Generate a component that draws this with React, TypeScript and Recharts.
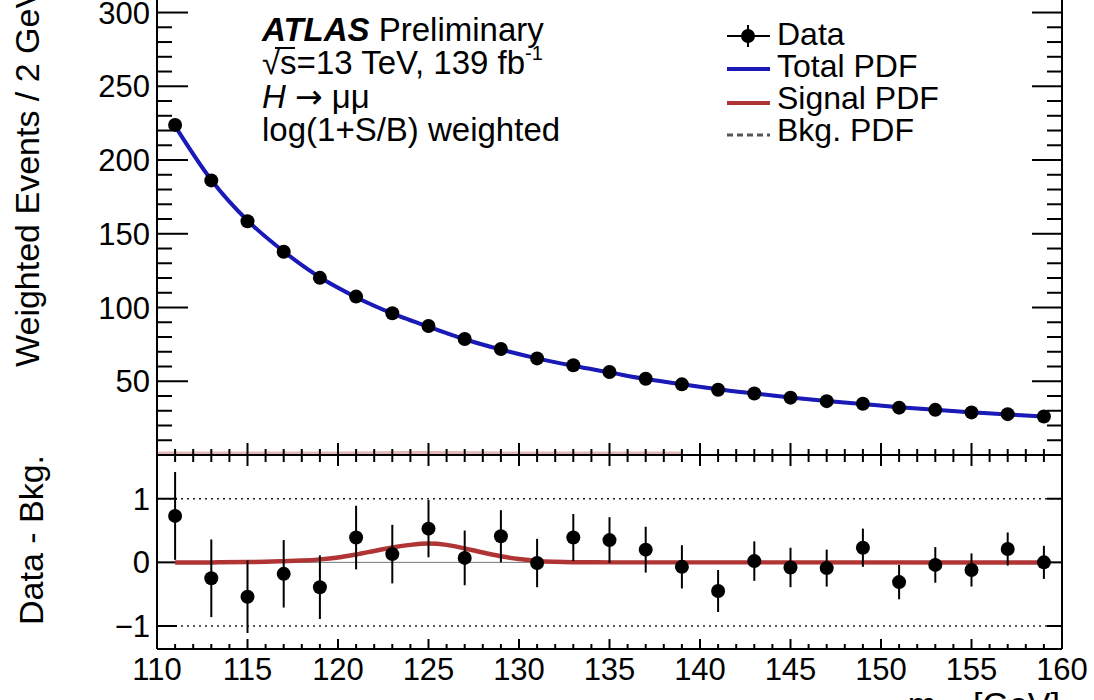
import React from "react";
import { ComposedChart, Line, Scatter, XAxis, YAxis, ErrorBar, ReferenceLine } from "recharts";

const FONT = "'Liberation Sans', Arial, Helvetica, sans-serif";
const BLUE = "#1a1ab8";
const RED = "#b03434";

// ---- data ----
const massBins = [111, 113, 115, 117, 119, 121, 123, 125, 127, 129, 131, 133, 135, 137, 139, 141, 143, 145, 147, 149, 151, 153, 155, 157, 159];
const weightedEvents = [223.7, 186.2, 158.5, 137.8, 120.1, 107.4, 96.1, 87.5, 78.6, 71.9, 65.5, 60.9, 56.3, 51.7, 47.9, 44.2, 41.7, 38.9, 36.5, 34.7, 32.1, 30.6, 28.9, 27.7, 26.1];
const eventErrors = [0.69, 0.61, 0.57, 0.53, 0.5, 0.5, 0.46, 0.45, 0.43, 0.41, 0.38, 0.37, 0.36, 0.36, 0.34, 0.33, 0.31, 0.31, 0.29, 0.3, 0.27, 0.28, 0.26, 0.26, 0.26];
const totalPdf = [223, 186.5, 159, 138, 120.5, 107, 96, 87, 78.5, 71.5, 65.5, 60.5, 56, 51.5, 48, 44.6, 41.7, 39, 36.6, 34.5, 32.4, 30.6, 29, 27.5, 26.1];
const bkgPdf = [223, 186.5, 159, 138, 120.45, 106.88, 95.77, 86.71, 78.28, 71.4, 65.48, 60.5, 56, 51.5, 48, 44.6, 41.7, 39, 36.6, 34.5, 32.4, 30.6, 29, 27.5, 26.1];
const residuals = [0.73, -0.25, -0.54, -0.18, -0.39, 0.39, 0.13, 0.53, 0.07, 0.41, -0.01, 0.39, 0.35, 0.2, -0.07, -0.45, 0.02, -0.08, -0.09, 0.23, -0.31, -0.04, -0.12, 0.21, 0.0];
const residualErrors = [0.69, 0.61, 0.57, 0.53, 0.5, 0.5, 0.46, 0.45, 0.43, 0.41, 0.38, 0.37, 0.36, 0.36, 0.34, 0.33, 0.31, 0.31, 0.29, 0.3, 0.27, 0.28, 0.26, 0.26, 0.26];
const signalMass = [111, 113, 115, 116, 117, 118, 119, 120, 121, 122, 123, 124, 125, 126, 127, 128, 129, 130, 131, 132, 133, 135, 159];
const signalPdf = [0, 0, 0.005, 0.01, 0.018, 0.028, 0.047, 0.078, 0.125, 0.18, 0.235, 0.275, 0.295, 0.275, 0.22, 0.155, 0.097, 0.052, 0.022, 0.009, 0.003, 0, 0];
const signalTopMass = [110, 115, 120, 125, 130, 135, 139];
const signalTopPdf = [0, 0.005, 0.078, 0.295, 0.052, 0, 0];

// ---- axis ticks ----
const xTicksAll = Array.from({ length: 51 }, (_, i) => 110 + i);
const xMajorTicks = [110, 115, 120, 125, 130, 135, 140, 145, 150, 155, 160];
const yTopTicksAll = Array.from({ length: 30 }, (_, i) => 10 + i * 10);
const yTopMajorTicks = [50, 100, 150, 200, 250, 300];
const yBotTicks = [-1, 0, 1];
const yBotLabels: Record<string, string> = { "-1": "\u22121", "0": "0", "1": "1" };

// ---- layout (pixels) ----
const X_DOMAIN: [number, number] = [110, 160];
const TOP_DOMAIN: [number, number] = [0, 308.5];
const BOT_DOMAIN: [number, number] = [-1.361, 1.687];
const PLOT_W = 905;
const TOP_H = 455;
const BOT_H = 194;
const pxX = PLOT_W / (X_DOMAIN[1] - X_DOMAIN[0]);
const pxTop = TOP_H / (TOP_DOMAIN[1] - TOP_DOMAIN[0]);
const pxBot = BOT_H / (BOT_DOMAIN[1] - BOT_DOMAIN[0]);

const topData = massBins.map((x, i) => ({ x, y: weightedEvents[i], err: eventErrors[i] }));
const totalData = massBins.map((x, i) => ({ x, y: totalPdf[i] }));
const bkgData = massBins.map((x, i) => ({ x, y: bkgPdf[i] }));
const resData = massBins.map((x, i) => ({ x, y: residuals[i], err: residualErrors[i] }));
const sigData = signalMass.map((x, i) => ({ x, y: signalPdf[i] }));
const sigTopData = signalTopMass.map((x, i) => ({ x, y: signalTopPdf[i] }));

const seg = (key: string, x1: number, y1: number, x2: number, y2: number) => (
  <ReferenceLine
    key={key}
    yAxisId="l"
    segment={[{ x: x1, y: y1 }, { x: x2, y: y2 }]}
    stroke="#000"
    strokeWidth={2}
    ifOverflow="visible"
  />
);

const yLabelTick = (fmt: (v: number) => string) => (props: any) => {
  const { x, y, payload } = props;
  return (
    <text x={x - 7} y={y + 11} textAnchor="end" fontSize={31} fontFamily={FONT} fill="#000">
      {fmt(Number(payload.value))}
    </text>
  );
};
const xLabelTick = (props: any) => {
  const { x, y, payload } = props;
  return (
    <text x={x} y={y + 31} textAnchor="middle" fontSize={31} fontFamily={FONT} fill="#000">
      {String(payload.value)}
    </text>
  );
};

const isMaj5 = (v: number) => v % 5 === 0;
const isMaj50 = (v: number) => v % 50 === 0;

const dot = (p: any) => <circle cx={p.cx} cy={p.cy} r={7} fill="#000" />;

function topFrame() {
  const [x0, x1] = X_DOMAIN;
  const [y0, y1] = TOP_DOMAIN;
  const out: React.ReactNode[] = [];
  out.push(seg("fl", x0, y0, x0, y1));
  out.push(seg("fr", x1, y0, x1, y1));
  out.push(seg("fb", x0, y0, x1, y0));
  yTopTicksAll.forEach((v) => {
    const m = isMaj50(v);
    out.push(seg("tl" + v, x0, v, x0 + (m ? 31 : 15) / pxX, v));
    out.push(seg("tr" + v, x1, v, x1 - (m ? 30 : 15) / pxX, v));
  });
  xTicksAll.forEach((v) => {
    const m = isMaj5(v);
    out.push(seg("tb" + v, v, y0, v, y0 + (m ? 12 : 6) / pxTop));
  });
  return out;
}

function botFrame() {
  const [x0, x1] = X_DOMAIN;
  const [y0, y1] = BOT_DOMAIN;
  const out: React.ReactNode[] = [];
  out.push(seg("fl", x0, y0, x0, y1));
  out.push(seg("fr", x1, y0, x1, y1));
  out.push(seg("fb", x0, y0, x1, y0));
  out.push(seg("ft", x0, y1, x1, y1));
  yBotTicks.forEach((v) => {
    out.push(seg("tl" + v, x0, v, x0 + 20 / pxX, v));
    out.push(seg("tr" + v, x1, v, x1 - 15 / pxX, v));
  });
  xTicksAll.forEach((v) => {
    const m = isMaj5(v);
    out.push(seg("tb" + v, v, y0, v, y0 + (m ? 10 : 5) / pxBot));
    out.push(seg("tt" + v, v, y1, v, y1 - (m ? 11 : 7) / pxBot));
  });
  return out;
}

export default function App() {
  return (
    <div style={{ position: "absolute", left: 0, top: 0, width: 1094, height: 700, overflow: "hidden", background: "#fff" }}>
      <div style={{ position: "absolute", left: 0, top: 0 }}>
        <ComposedChart width={1094} height={456} margin={{ top: 0, right: 32, bottom: 1, left: 0 }}>
          <XAxis type="number" dataKey="x" domain={X_DOMAIN} allowDataOverflow ticks={xMajorTicks} height={0} tick={false} tickLine={false} axisLine={false} />
          <YAxis
            yAxisId="l"
            type="number"
            domain={TOP_DOMAIN}
            allowDataOverflow
            ticks={yTopMajorTicks}
            interval={0}
            width={157}
            tickSize={0}
            tickMargin={0}
            tickLine={false}
            axisLine={false}
            tick={yLabelTick((v) => String(v))}
          />
          <Line yAxisId="l" data={sigTopData} dataKey="y" type="monotone" stroke={RED} strokeOpacity={0.35} strokeWidth={7} dot={false} isAnimationActive={false} />
          {topFrame()}
          <Line yAxisId="l" data={bkgData} dataKey="y" type="monotone" stroke="#555" strokeWidth={3} strokeDasharray="6 4" dot={false} isAnimationActive={false} />
          <Line yAxisId="l" data={totalData} dataKey="y" type="monotone" stroke={BLUE} strokeWidth={4} dot={false} isAnimationActive={false} />
          <Scatter yAxisId="l" data={topData} dataKey="y" shape={dot} isAnimationActive={false}>
            <ErrorBar dataKey="err" direction="y" width={0} stroke="#000" strokeWidth={2} isAnimationActive={false} />
          </Scatter>
        </ComposedChart>
      </div>

      <div style={{ position: "absolute", left: 0, top: 440 }}>
        <ComposedChart width={1094} height={260} margin={{ top: 15, right: 32, bottom: 0, left: 0 }}>
          <XAxis
            type="number"
            dataKey="x"
            domain={X_DOMAIN}
            allowDataOverflow
            ticks={xMajorTicks}
            interval={0}
            height={51}
            tickSize={0}
            tickMargin={0}
            tickLine={false}
            axisLine={false}
            tick={xLabelTick}
          />
          <YAxis
            yAxisId="l"
            type="number"
            domain={BOT_DOMAIN}
            allowDataOverflow
            ticks={yBotTicks}
            interval={0}
            width={157}
            tickSize={0}
            tickMargin={0}
            tickLine={false}
            axisLine={false}
            tick={yLabelTick((v) => yBotLabels[String(v)])}
          />
          <ReferenceLine yAxisId="l" y={1} stroke="#222" strokeWidth={1.6} strokeDasharray="2 4" />
          <ReferenceLine yAxisId="l" y={-1} stroke="#222" strokeWidth={1.6} strokeDasharray="2 4" />
          <ReferenceLine yAxisId="l" y={0} stroke="#777" strokeWidth={1} />
          {botFrame()}
          <Line yAxisId="l" data={sigData} dataKey="y" type="monotone" stroke={RED} strokeWidth={4.5} dot={false} isAnimationActive={false} />
          <Scatter yAxisId="l" data={resData} dataKey="y" shape={dot} isAnimationActive={false}>
            <ErrorBar dataKey="err" direction="y" width={0} stroke="#000" strokeWidth={2} isAnimationActive={false} />
          </Scatter>
        </ComposedChart>
      </div>

      <svg style={{ position: "absolute", left: 0, top: 0, pointerEvents: "none" }} width={1094} height={700}>
        <g fontFamily={FONT} fill="#000">
          {/* axis titles */}
          <text transform="translate(39,367) rotate(-90)" fontSize={34} textAnchor="start">
            Weighted Events / 2 GeV
          </text>
          <text transform="translate(43,625) rotate(-90)" fontSize={34} textAnchor="start">
            Data - Bkg.
          </text>
          <text x={1060} y={716} fontSize={34} textAnchor="end">
            m<tspan fontSize={24} dy={8}>μμ</tspan>
            <tspan dy={-8}> [GeV]</tspan>
          </text>

          {/* ATLAS label block */}
          <text x={262} y={41} fontSize={33}>
            <tspan fontWeight="bold" fontStyle="italic">ATLAS</tspan>
            <tspan> Preliminary</tspan>
          </text>
          <text x={262} y={74} fontSize={33}>
            √s=13 TeV, 139 fb
            <tspan fontSize={20} dy={-14}>-1</tspan>
          </text>
          <line x1={275} y1={48} x2={295} y2={48} stroke="#000" strokeWidth={2} />
          <text x={262} y={108} fontSize={33}>
            <tspan fontStyle="italic">H</tspan>
            <tspan> </tspan>
            <tspan fontFamily="'DejaVu Sans', sans-serif">→</tspan>
            <tspan> μμ</tspan>
          </text>
          <text x={262} y={141} fontSize={33}>
            log(1+S/B) weighted
          </text>

          {/* legend */}
          <line x1={727} y1={36} x2={770} y2={36} stroke="#000" strokeWidth={2} />
          <line x1={748} y1={25} x2={748} y2={47} stroke="#000" strokeWidth={2} />
          <circle cx={748} cy={36} r={7} fill="#000" />
          <text x={777} y={45} fontSize={32}>Data</text>

          <line x1={727} y1={69} x2={770} y2={69} stroke={BLUE} strokeWidth={4} />
          <text x={777} y={77} fontSize={32}>Total PDF</text>

          <line x1={727} y1={103} x2={770} y2={103} stroke={RED} strokeWidth={4} />
          <text x={777} y={109} fontSize={32}>Signal PDF</text>

          <line x1={727} y1={135} x2={770} y2={135} stroke="#555" strokeWidth={3} strokeDasharray="6 4" />
          <text x={777} y={141} fontSize={32}>Bkg. PDF</text>
        </g>
      </svg>
    </div>
  );
}
